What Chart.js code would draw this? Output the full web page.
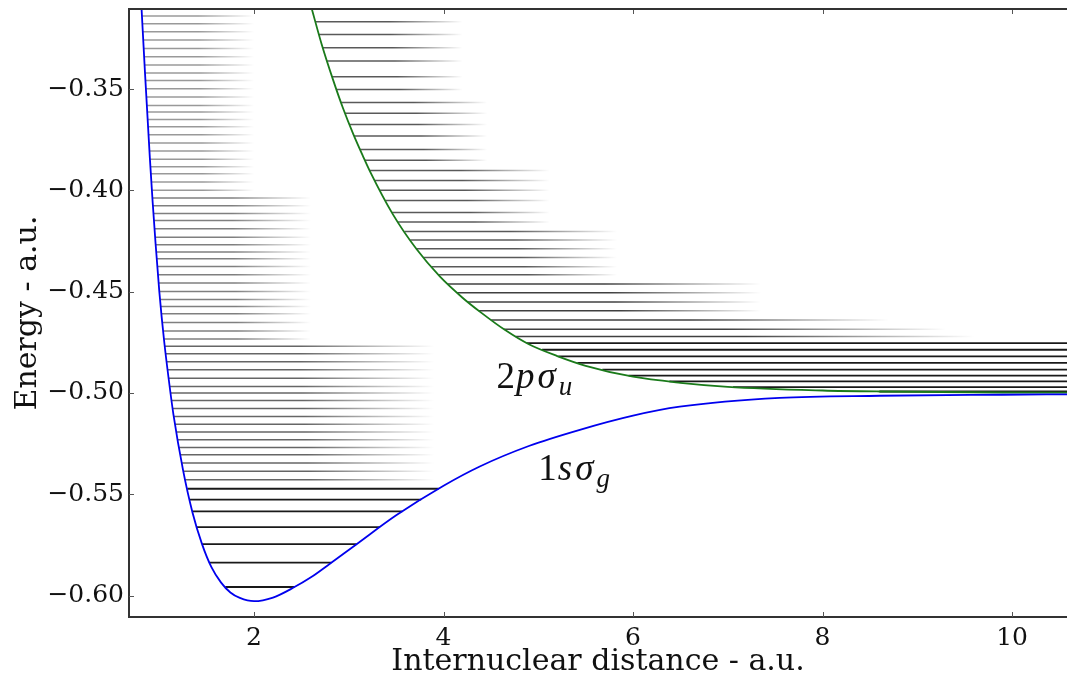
<!DOCTYPE html>
<html lang="en">
<head>
  <meta charset="UTF-8">
  <title>H2+ potential curves</title>
  <script src="https://cdn.jsdelivr.net/npm/chart.js"></script>
  <style>
    body { margin: 0; background: #fff; }
    canvas { display: block; }
  </style>
</head>
<body>
  <canvas id="chart" width="1067" height="681"></canvas>

  <script>
    // 1s sigma_g curve (internuclear distance, energy)
    const blueR = [0.80, 0.812, 0.85, 0.90, 0.93, 0.96, 1.00, 1.05, 1.10, 1.15, 1.25, 1.35, 1.45, 1.55, 1.65, 1.75, 1.85, 2.00, 2.20, 2.412, 2.60, 2.80, 3.089, 3.50, 4.00, 4.382, 4.90, 5.438, 6.00, 6.493, 7.548, 8.604, 9.891, 10.6];
    const blueE = [-0.2995, -0.3099, -0.3430, -0.3840, -0.4060, -0.4260, -0.4500, -0.4740, -0.4935, -0.5110, -0.5380, -0.5590, -0.5745, -0.5860, -0.5935, -0.5985, -0.6012, -0.6028, -0.6010, -0.5962, -0.5910, -0.5843, -0.5744, -0.5604, -0.5458, -0.5363, -0.5262, -0.5182, -0.5112, -0.5068, -0.5024, -0.5014, -0.5009, -0.5007];

    // 2p sigma_u curve
    const greenR = [2.58, 2.606, 2.711, 2.834, 2.939, 3.045, 3.150, 3.222, 3.467, 3.714, 3.960, 4.20, 4.40, 4.65, 4.90, 5.20, 5.50, 6.00, 6.50, 7.00, 8.00, 8.60, 9.90, 10.6];
    const greenE = [-0.3055, -0.3099, -0.3275, -0.3455, -0.3595, -0.3720, -0.3832, -0.3905, -0.4120, -0.4290, -0.4425, -0.4530, -0.4605, -0.4690, -0.4760, -0.4818, -0.4866, -0.4920, -0.4950, -0.4970, -0.4988, -0.4993, -0.4998, -0.4999];

    // level energies drawn as horizontal lines
    const blueLevelE = [-0.3140, -0.3178, -0.3217, -0.3258, -0.3300, -0.3341, -0.3382, -0.3421, -0.3458, -0.3499, -0.3539, -0.3581, -0.3614, -0.3650, -0.3686, -0.3726, -0.3767, -0.3806, -0.3847, -0.3884, -0.3918, -0.3959, -0.4000,
      -0.4038, -0.4076, -0.4114, -0.4149, -0.4190, -0.4231, -0.4269, -0.4305, -0.4338, -0.4376, -0.4417, -0.4458, -0.4499, -0.4539, -0.4573, -0.4609, -0.4652, -0.4694, -0.4734,
      -0.4770, -0.4807, -0.4846, -0.4885, -0.4928, -0.4968, -0.5000, -0.5037, -0.5077, -0.5116, -0.5155, -0.5193, -0.5231, -0.5269, -0.5305, -0.5346, -0.5387, -0.5428,
      -0.5473, -0.5527, -0.5585, -0.5662, -0.5746, -0.5838, -0.5958];
    // levels above each floor fade out at the matching distance; below the last one they are bound
    const blueBandFloor = [-0.402, -0.475, -0.545];
    const blueBandEnd = [2.0, 2.6, 3.9];

    const greenLevelE = [-0.3168, -0.3231, -0.3296, -0.3362, -0.3439, -0.3502, -0.3566, -0.3620, -0.3675, -0.3732, -0.3798, -0.3852, -0.3902, -0.3951, -0.4000, -0.4050, -0.4109, -0.4156, -0.4203, -0.4245, -0.4288, -0.4331, -0.4377, -0.4417, -0.4462, -0.4505, -0.4551, -0.4594, -0.4640, -0.4686, -0.4721, -0.4754, -0.4787, -0.4820, -0.4852, -0.4885, -0.4915, -0.4943, -0.4971, -0.4993];
    const greenBandFloor = [-0.351, -0.387, -0.418, -0.444, -0.461, -0.466, -0.470, -0.473];
    const greenBandEnd = [4.2, 4.46, 5.12, 5.83, 7.35, 8.7, 9.3, 9.6];

    const xTicks = [2, 4, 6, 8, 10];
    const xTickLabels = ['2', '4', '6', '8', '10'];
    const yTicks = [-0.60, -0.55, -0.50, -0.45, -0.40, -0.35];
    const yTickLabels = ['\u22120.60', '\u22120.55', '\u22120.50', '\u22120.45', '\u22120.40', '\u22120.35'];

    // where a curve crosses energy e (linear between read points)
    function crossing(rs, es, e) {
      for (let k = 0; k < rs.length - 1; k++) {
        const a = es[k], b = es[k + 1];
        if ((a - e) * (b - e) <= 0 && a !== b) {
          return rs[k] + (e - a) / (b - a) * (rs[k + 1] - rs[k]);
        }
      }
      return null;
    }

    function levelSet(x0, x1, e, alpha, fade) {
      return {
        data: [{ x: x0, y: e }, { x: x1, y: e }],
        borderWidth: fade ? 1.5 : 1.8,
        pointRadius: 0,
        tension: 0,
        order: 2,
        borderColor(ctx) {
          const c = ctx.chart, sx = c.scales.x;
          const solid = 'rgba(0,0,0,' + alpha + ')';
          if (!fade || !c.chartArea || !sx) return solid;
          const p0 = sx.getPixelForValue(x0), p1 = sx.getPixelForValue(x1);
          const g = c.ctx.createLinearGradient(p0, 0, p1, 0);
          g.addColorStop(0, solid);
          g.addColorStop(0.5, solid);
          g.addColorStop(1, 'rgba(0,0,0,0)');
          return g;
        }
      };
    }

    const minIdx = blueE.indexOf(Math.min(...blueE));
    const leftR = blueR.slice(0, minIdx + 1), leftE = blueE.slice(0, minIdx + 1);
    const rightR = blueR.slice(minIdx), rightE = blueE.slice(minIdx);

    const levels = [];
    blueLevelE.forEach(e => {
      const x0 = crossing(leftR, leftE, e);
      const band = blueBandFloor.findIndex(f => e >= f);
      if (band < 0) {
        levels.push(levelSet(x0, crossing(rightR, rightE, e), e, 0.9, false));
      } else {
        levels.push(levelSet(x0, blueBandEnd[band], e, [0.4, 0.5, 0.6][band], true));
      }
    });
    greenLevelE.forEach(e => {
      const x0 = crossing(greenR, greenE, e);
      const band = greenBandFloor.findIndex(f => e >= f);
      if (band < 0) {
        levels.push(levelSet(x0, 12, e, 0.9, false));
      } else {
        levels.push(levelSet(x0, greenBandEnd[band], e, band < 4 ? 0.65 : 0.75, true));
      }
    });

    function line(ctx, x0, y0, x1, y1) {
      ctx.beginPath(); ctx.moveTo(x0, y0); ctx.lineTo(x1, y1); ctx.stroke();
    }

    function mathLabel(ctx, px, py, parts) {
      let cx = px;
      parts.forEach(p => {
        const size = p.sub ? 27 : 37;
        ctx.font = (p.italic ? 'italic ' : '') + size + 'px "Liberation Serif", serif';
        ctx.fillText(p.t, cx, py + (p.sub ? 7 : 0));
        cx += ctx.measureText(p.t).width + (p.italic && !p.sub ? 3 : 1);
      });
    }

    const decor = {
      id: 'decor',
      afterDatasetsDraw(chart) {
        const { ctx, chartArea: a, scales: { x, y } } = chart;
        ctx.save();
        ctx.strokeStyle = '#555';
        ctx.lineWidth = 1;
        xTicks.forEach(v => {
          const px = Math.round(x.getPixelForValue(v)) + 0.5;
          line(ctx, px, a.bottom, px, a.bottom - 5);
          line(ctx, px, a.top, px, a.top + 5);
        });
        yTicks.forEach(v => {
          const py = Math.round(y.getPixelForValue(v)) + 0.5;
          line(ctx, a.left, py, a.left + 5, py);
        });
        ctx.strokeStyle = '#333';
        ctx.lineWidth = 2;
        line(ctx, a.left - 1, a.top, a.right, a.top);

        ctx.fillStyle = '#111';
        ctx.textBaseline = 'alphabetic';
        mathLabel(ctx, x.getPixelForValue(4.56), y.getPixelForValue(-0.4974), [
          { t: '2' }, { t: 'p', italic: true }, { t: '\u03c3', italic: true }, { t: 'u', italic: true, sub: true }
        ]);
        mathLabel(ctx, x.getPixelForValue(5.0), y.getPixelForValue(-0.5428), [
          { t: '1' }, { t: 's', italic: true }, { t: '\u03c3', italic: true }, { t: 'g', italic: true, sub: true }
        ]);
        ctx.restore();
      }
    };

    const tickFont = { family: '"DejaVu Serif", serif', size: 25 };
    const titleFont = { family: '"DejaVu Serif", serif', size: 30 };

    new Chart(document.getElementById('chart'), {
      type: 'line',
      data: {
        datasets: [
          {
            data: blueR.map((r, k) => ({ x: r, y: blueE[k] })),
            borderColor: '#0000ee', borderWidth: 1.8, pointRadius: 0,
            cubicInterpolationMode: 'monotone', order: 0
          },
          {
            data: greenR.map((r, k) => ({ x: r, y: greenE[k] })),
            borderColor: '#1a7a1a', borderWidth: 1.8, pointRadius: 0,
            cubicInterpolationMode: 'monotone', order: 0
          },
          ...levels
        ]
      },
      options: {
        responsive: false,
        animation: false,
        layout: { padding: { top: 9, right: 0, left: 0, bottom: 0 } },
        plugins: { legend: { display: false }, tooltip: { enabled: false } },
        scales: {
          x: {
            type: 'linear', min: 0.68, max: 10.58,
            grid: { display: false, drawTicks: false },
            border: { display: true, color: '#333', width: 2 },
            afterBuildTicks: s => { s.ticks = xTicks.map(v => ({ value: v })); },
            afterFit: s => { s.height = 64; s.paddingLeft = 0; s.paddingRight = 0; },
            ticks: { font: tickFont, color: '#111', padding: 6, maxRotation: 0,
              callback: (v, k) => xTickLabels[k] },
            title: { display: true, text: 'Internuclear distance - a.u.', font: titleFont, color: '#111',
              padding: { top: 0, bottom: 1 } }
          },
          y: {
            type: 'linear', min: -0.6106, max: -0.3105,
            grid: { display: false, drawTicks: false },
            border: { display: true, color: '#333', width: 2 },
            afterBuildTicks: s => { s.ticks = yTicks.map(v => ({ value: v })); },
            afterFit: s => { s.width = 129; s.paddingTop = 0; s.paddingBottom = 0; },
            ticks: { font: tickFont, color: '#111', padding: 5,
              callback: (v, k) => yTickLabels[k] },
            title: { display: true, text: 'Energy - a.u.', font: titleFont, color: '#111',
              padding: { top: 10, bottom: 0 } }
          }
        }
      },
      plugins: [decor]
    });
  </script>
</body>
</html>
